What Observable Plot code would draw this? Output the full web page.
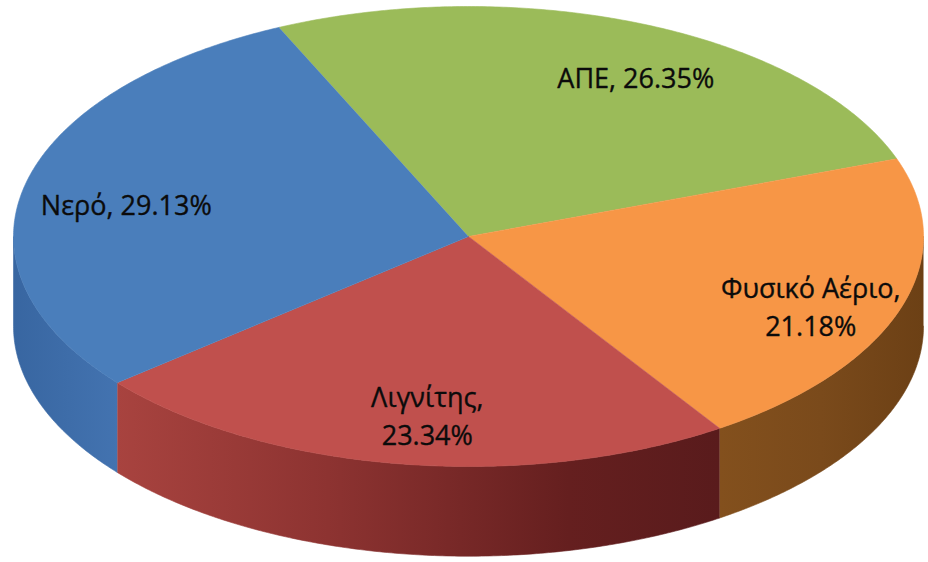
<!DOCTYPE html>
<html>
<head>
<meta charset="utf-8">
<script src="https://cdn.jsdelivr.net/npm/d3@7"></script>
<script src="https://cdn.jsdelivr.net/npm/@observablehq/plot@0.6"></script>
<style>
  html, body { margin: 0; padding: 0; background: #ffffff; }
  #chart svg { display: block; }
</style>
</head>
<body>
<div id="chart"></div>
<script>
// ---- Data (clockwise order, starting at the ΑΠΕ / Νερό boundary) ----
const categories = ["ΑΠΕ", "Φυσικό Αέριο", "Λιγνίτης", "Νερό"];
const shares = [26.35, 21.18, 23.34, 29.13];
const wrapLabel = [false, true, true, false];

// ---- Styling ----
const topColors = ["#9BBB59", "#F79646", "#C0504D", "#4A7EBB"];
const sideGradients = [
  [["0", "#6f8a3c"], ["1", "#5c7331"]],
  [["0", "#83501d"], ["0.5", "#7a4a1b"], ["1", "#6c4015"]],
  [["0", "#a8433f"], ["0.35", "#8d3331"], ["0.75", "#651f1f"], ["1", "#591b1c"]],
  [["0", "#3866a1"], ["1", "#4373b0"]]
];
const startDeg = -24.6;      // rotation of first slice edge (clockwise from 12 o'clock)
const depth = 0.39;          // pie thickness, in units of the vertical radius
const labelRadius = 0.78;
const labelNudge = {"ΑΠΕ": [0.065, 0.02], "Φυσικό Αέριο": [0.012, 0.05], "Λιγνίτης": [0.025, 0], "Νερό": [0.008, 0.03]};

// ---- Geometry derived from the data ----
const arcs = d3.pie().sort(null)
  .startAngle(startDeg * Math.PI / 180)
  .endAngle(startDeg * Math.PI / 180 + 2 * Math.PI)(shares);

const step = Math.PI / 360;
function arcPoints(a0, a1, dy = 0) {
  const n = Math.max(2, Math.ceil((a1 - a0) / step));
  const pts = [];
  for (let i = 0; i <= n; i++) {
    const a = a0 + (a1 - a0) * i / n;
    pts.push({x: Math.sin(a), y: -Math.cos(a) + dy});
  }
  return pts;
}

const topFaces = arcs.map((a, i) => ({
  key: categories[i],
  color: topColors[i],
  points: [{x: 0, y: 0}, ...arcPoints(a.startAngle, a.endAngle)]
}));

const sides = [];
arcs.forEach((a, i) => {
  // the visible front rim spans the angles π/2 .. 3π/2
  const v0 = Math.max(a.startAngle, Math.PI / 2);
  const v1 = Math.min(a.endAngle, 3 * Math.PI / 2);
  if (v1 > v0) {
    const top = arcPoints(v0, v1);
    const bottom = arcPoints(v0, v1, depth).reverse();
    sides.push({key: categories[i], idx: i, points: [...top, ...bottom]});
  }
});

const labels = arcs.map((a, i) => {
  const mid = (a.startAngle + a.endAngle) / 2;
  const nudge = labelNudge[categories[i]] || [0, 0];
  return {
    x: labelRadius * Math.sin(mid) + nudge[0],
    y: -labelRadius * Math.cos(mid) + nudge[1],
    text: categories[i] + "," + (wrapLabel[i] ? "\n" : " ") + shares[i].toFixed(2) + "%"
  };
});

// ---- Plot ----
const marks = [];
sides.forEach(s => {
  marks.push(Plot.line(s.points, {
    x: "x", y: "y",
    fill: `url(#side-${s.idx})`,
    stroke: `url(#side-${s.idx})`, strokeWidth: 0.6
  }));
});
topFaces.forEach(f => {
  marks.push(Plot.line(f.points, {
    x: "x", y: "y",
    fill: f.color, stroke: f.color, strokeWidth: 0.6
  }));
});
marks.push(Plot.text(labels, {
  x: "x", y: "y", text: "text",
  fontSize: 27, fontFamily: "'Open Sans', sans-serif",
  lineHeight: 1.4, fill: "#0b0b0b", stroke: "#0b0b0b", strokeWidth: 0.35
}));

const chart = Plot.plot({
  width: 928,
  height: 562,
  margin: 0,
  style: {background: "#ffffff", overflow: "visible"},
  x: {axis: null, domain: [-1, 1], range: [13, 923]},
  y: {axis: null, domain: [-1, 1], range: [6, 466]},
  marks
});

// gradient definitions used by the side walls
const ns = "http://www.w3.org/2000/svg";
const defs = document.createElementNS(ns, "defs");
sideGradients.forEach((stops, i) => {
  const g = document.createElementNS(ns, "linearGradient");
  g.setAttribute("id", `side-${i}`);
  g.setAttribute("x1", "0"); g.setAttribute("y1", "0");
  g.setAttribute("x2", "1"); g.setAttribute("y2", "0");
  stops.forEach(([o, c]) => {
    const s = document.createElementNS(ns, "stop");
    s.setAttribute("offset", o);
    s.setAttribute("stop-color", c);
    g.appendChild(s);
  });
  defs.appendChild(g);
});
chart.insertBefore(defs, chart.firstChild);

document.getElementById("chart").appendChild(chart);
</script>
</body>
</html>
